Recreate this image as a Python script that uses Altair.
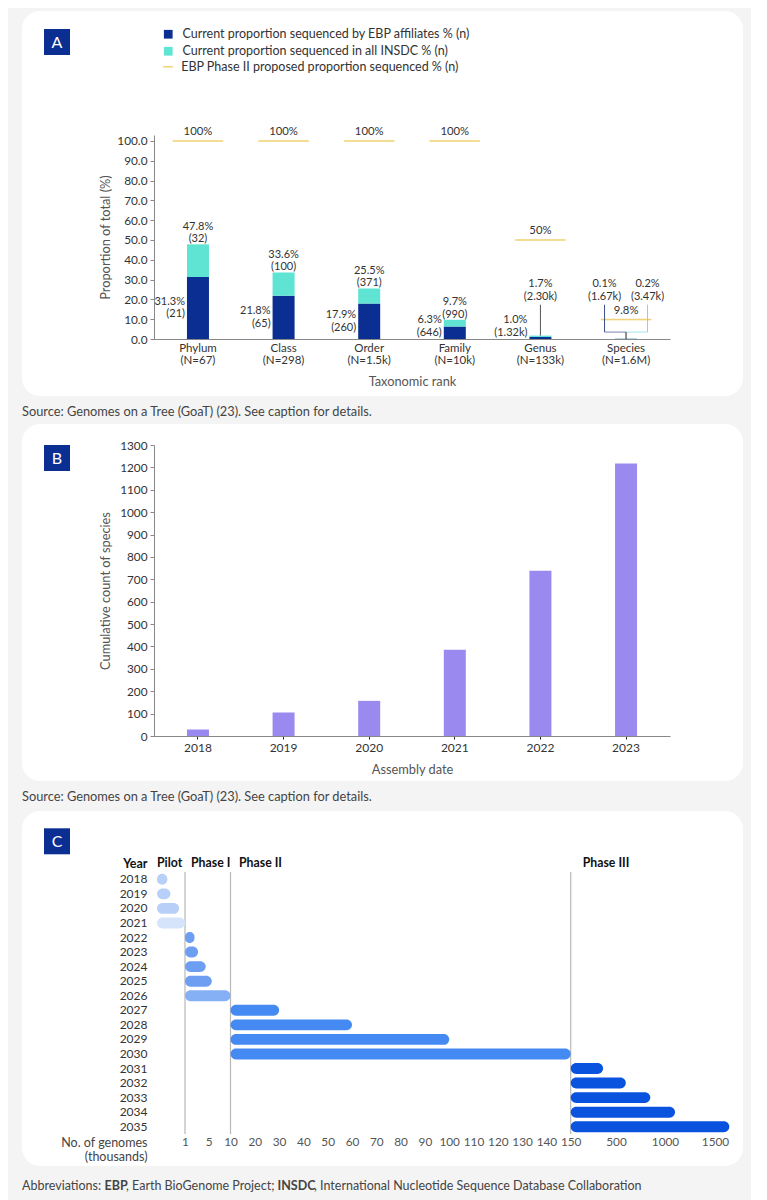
import altair as alt
import pandas as pd

# ---------------- Panel A data ----------------
ranks = ["Phylum", "Class", "Order", "Family", "Genus", "Species"]
rank_sizes = ["(N=67)", "(N=298)", "(N=1.5k)", "(N=10k)", "(N=133k)", "(N=1.6M)"]
ebp_pct = [31.3, 21.8, 17.9, 6.3, 1.0, 0.1]
ebp_n = ["21", "65", "260", "646", "1.32k", "1.67k"]
insdc_pct = [47.8, 33.6, 25.5, 9.7, 1.7, 0.2]
insdc_n = ["32", "100", "371", "990", "2.30k", "3.47k"]
target_pct = [100, 100, 100, 100, 50, 9.8]
a_ticks = [0, 10, 20, 30, 40, 50, 60, 70, 80, 90, 100]

S1 = "Current proportion sequenced by EBP affiliates % (n)"
S2 = "Current proportion sequenced in all INSDC % (n)"
S3 = "EBP Phase II proposed proportion sequenced % (n)"

# ---------------- Panel B data ----------------
b_years = ["2018", "2019", "2020", "2021", "2022", "2023"]
b_counts = [29, 105, 157, 385, 738, 1217]
b_ticks = [0, 100, 200, 300, 400, 500, 600, 700, 800, 900, 1000, 1100, 1200, 1300]

# ---------------- Panel C data ----------------
c_years = ["2018", "2019", "2020", "2021", "2022", "2023", "2024", "2025", "2026",
           "2027", "2028", "2029", "2030", "2031", "2032", "2033", "2034", "2035"]
c_phase = ["Pilot", "Pilot", "Pilot", "Pilot",
           "Phase I", "Phase I", "Phase I", "Phase I", "Phase I",
           "Phase II", "Phase II", "Phase II", "Phase II",
           "Phase III", "Phase III", "Phase III", "Phase III", "Phase III"]
c_genomes = [0.37, 0.48, 0.79, 1.0, 2.6, 3.2, 4.5, 5.7, 10,
             30, 60, 100, 150, 400, 600, 850, 1100, 1650]
phase_names = ["Pilot", "Phase I", "Phase II", "Phase III"]
phase_start = [0, 1, 10, 150]
c_ticks = [1, 5, 10, 20, 30, 40, 50, 60, 70, 80, 90, 100, 110, 120, 130, 140, 150, 500, 1000, 1500]

# ---------------- styles ----------------
FONT = "Lato"
EBP_BLUE = "#0a2e92"
INSDC_CYAN = "#5fe3d3"
GOLD = "#ebc340"
PURPLE = "#9a8af0"
TXT = "#333333"
TITLE = "#555555"
C_PALETTE = ["#b8d0f8", "#b8d0f8", "#b8d0f8", "#d6e4fb",
             "#6d9ef2", "#6d9ef2", "#6d9ef2", "#6d9ef2", "#86b0f5",
             "#4589f3", "#4589f3", "#4589f3", "#4589f3",
             "#0a53de", "#0a53de", "#0a53de", "#0a53de", "#0a53de"]
# piecewise (broken) axis for panel C
C_DOMAIN = [0, 1, 5, 10, 150, 500, 1000, 1500, 1650]
C_RANGE = [3, 31, 54.7, 76.5, 416.7, 462, 511, 561, 575.3]
HDR_DX = [0, 6, 8.5, 12]

PX1, PX2 = -132, 589
LEADER = 17.3
LH = 12.5  # label line height
FS = 11
one = pd.DataFrame({"k": [0]})


def panel_base(top, bottom, extent_bottom, badge_y, letter):
    return [
        alt.Chart(one).mark_rect(opacity=0).encode(
            x=alt.value(PX1), x2=alt.value(PX2), y=alt.value(top), y2=alt.value(extent_bottom)),
        alt.Chart(one).mark_rect(fill="white", cornerRadius=18).encode(
            x=alt.value(PX1), x2=alt.value(PX2), y=alt.value(top), y2=alt.value(bottom)),
        alt.Chart(one).mark_rect(fill=EBP_BLUE).encode(
            x=alt.value(-110), x2=alt.value(-84), y=alt.value(badge_y), y2=alt.value(badge_y + 26)),
        alt.Chart(pd.DataFrame({"t": [letter]})).mark_text(
            color="white", fontSize=16, align="center", baseline="middle").encode(
            x=alt.value(-97), y=alt.value(badge_y + 13.5), text="t:N"),
    ]


def caption(text, x, y, weight="normal", size=12.8):
    return alt.Chart(pd.DataFrame({"t": [text]})).mark_text(
        align="left", baseline="middle", fontSize=size, color="#444", fontWeight=weight).encode(
        x=alt.value(x), y=alt.value(y), text="t:N")


# ================= Panel A =================
catA = [f"{r}|{n}" for r, n in zip(ranks, rank_sizes)]
dfA = pd.DataFrame({
    "rank": ranks, "cat": catA, "ebp": ebp_pct, "insdc": insdc_pct, "target": target_pct,
    "ebp_lab": [f"{p}%\n({n})" for p, n in zip(ebp_pct, ebp_n)],
    "insdc_lab": [f"{p}%\n({n})" for p, n in zip(insdc_pct, insdc_n)],
    "target_lab": [f"{t:g}%" for t in target_pct],
    "tseries": [S3] * len(ranks),
})
bars_df = pd.DataFrame({
    "cat": catA + catA,
    "series": [S1] * 6 + [S2] * 6,
    "y0": [0] * 6 + ebp_pct,
    "y1": ebp_pct + insdc_pct,
})

xA_axis = alt.Axis(labelExpr="split(datum.label, '|')", labelAngle=0, ticks=False, labelPadding=3,
                   labelFontSize=11.5, labelColor=TXT, labelLineHeight=12.5, title="Taxonomic rank",
                   titleFontSize=12.8, titleColor=TITLE, titleFontWeight="normal", titlePadding=9,
                   domainColor="#888", zindex=1)
yA_axis = alt.Axis(values=a_ticks, format=".1f", title="Proportion of total (%)", tickSize=4,
                   labelFontSize=11.8, labelColor=TXT, labelPadding=3, titleFontSize=12.8,
                   titleColor=TITLE, titleFontWeight="normal", titlePadding=4,
                   domainColor="#888", tickColor="#888", zindex=1)


def XA():
    return alt.X("cat:N", scale=alt.Scale(domain=catA, paddingInner=0.743, paddingOuter=0.385), axis=xA_axis)


def YA(f):
    return alt.Y(f"{f}:Q", scale=alt.Scale(domain=[0, 103], nice=False), axis=yA_axis)


barsA = alt.Chart(bars_df).mark_bar().encode(
    x=XA(), y=YA("y0"), y2="y1",
    fill=alt.Fill("series:N", scale=alt.Scale(domain=[S1, S2], range=[EBP_BLUE, INSDC_CYAN]),
                  legend=alt.Legend(orient="none", legendX=8, legendY=-107, title=None,
                                    symbolType="square", symbolSize=76, symbolStrokeWidth=0,
                                    labelFontSize=12.5, labelColor=TXT, labelOffset=8, labelLimit=500,
                                    rowPadding=4, padding=0)))

targetA = alt.Chart(dfA).mark_tick(size=50, thickness=1, strokeWidth=0.6, fill=GOLD).encode(
    x=XA(), y=YA("target"),
    stroke=alt.Stroke("tseries:N", scale=alt.Scale(domain=[S3], range=[GOLD]),
                      legend=alt.Legend(orient="none", legendX=7.7, legendY=-74.5, title=None,
                                        symbolType="stroke", symbolSize=100, symbolStrokeWidth=1.5,
                                        labelFontSize=12.5, labelColor=TXT, labelOffset=7,
                                        labelLimit=500, padding=0)))

targetLab = alt.Chart(dfA).mark_text(baseline="bottom", dy=-4, fontSize=FS + 0.3, color=TXT).encode(
    x=XA(), y=YA("target"), text="target_lab:N")

# multi-line labels: the first line sits at the anchor, further lines flow downward
topLab = alt.Chart(dfA).transform_filter("datum.rank != 'Species' && datum.rank != 'Genus'").mark_text(
    baseline="bottom", dy=-12.5, lineBreak="\n", lineHeight=LH, fontSize=FS, color=TXT).encode(
    x=XA(), y=YA("insdc"), text="insdc_lab:N")
genusLab = alt.Chart(dfA).transform_filter("datum.rank == 'Genus'").transform_calculate(
    ly=f"{LEADER}").mark_text(
    baseline="bottom", dy=-15.5, lineBreak="\n", lineHeight=LH, fontSize=FS, color=TXT).encode(
    x=XA(), y=YA("ly"), text="insdc_lab:N")

leftLab = alt.Chart(dfA).transform_filter("datum.rank != 'Species'").transform_calculate(
    ly="max(datum.ebp / 2, 6.3)").mark_text(
    align="right", baseline="middle", dx=-13, dy=-LH / 2, lineBreak="\n", lineHeight=LH,
    fontSize=FS, color=TXT).encode(x=XA(), y=YA("ly"), text="ebp_lab:N")

spec = alt.Chart(dfA).transform_filter("datum.rank == 'Species'").transform_calculate(
    ly=f"{LEADER}", low="3.5", zero="0")
specLabE = spec.mark_text(baseline="bottom", dy=-15.5, xOffset=-21.5, lineBreak="\n", lineHeight=LH,
                          fontSize=FS, color=TXT).encode(x=XA(), y=YA("ly"), text="ebp_lab:N")
specLabI = spec.mark_text(baseline="bottom", dy=-15.5, xOffset=21.5, lineBreak="\n", lineHeight=LH,
                          fontSize=FS, color=TXT).encode(x=XA(), y=YA("ly"), text="insdc_lab:N")
brL = spec.mark_rule(xOffset=-21.5, color="#3d4f8c", strokeWidth=1).encode(x=XA(), y=YA("ly"), y2="low:Q")
brR = spec.mark_rule(xOffset=21.5, color="#7fd8d8", strokeWidth=1).encode(x=XA(), y=YA("ly"), y2="low:Q")
brHL = spec.mark_tick(size=21.5, thickness=1, xOffset=-10.75, color="#3d4f8c").encode(x=XA(), y=YA("low"))
brHR = spec.mark_tick(size=21.5, thickness=1, xOffset=10.75, color="#7fd8d8").encode(x=XA(), y=YA("low"))
brTip = spec.mark_rule(color="#222", strokeWidth=1).encode(x=XA(), y=YA("low"), y2="zero:Q")

genusLeader = alt.Chart(dfA).transform_filter("datum.rank == 'Genus'").transform_calculate(
    ly=f"{LEADER}").mark_rule(color="#555", strokeWidth=1).encode(x=XA(), y=YA("ly"), y2="insdc:Q")

chartA = alt.layer(
    *panel_base(-124, 261, 289, -106, "A"),
    caption("Source: Genomes on a Tree (GoaT) (23). See caption for details.", PX1, 277),
    barsA, targetA, targetLab, topLab, genusLab, leftLab, genusLeader,
    brL, brR, brHL, brHR, brTip, specLabE, specLabI,
).properties(width=516, height=204)

# ================= Panel B =================
dfB = pd.DataFrame({"year": b_years, "count": b_counts})
chartB_bars = alt.Chart(dfB).mark_bar(color=PURPLE).encode(
    x=alt.X("year:N", scale=alt.Scale(domain=b_years, paddingInner=0.743, paddingOuter=0.385),
            axis=alt.Axis(labelAngle=0, title="Assembly date", tickSize=3, tickColor="#222",
                          labelFontSize=12, labelColor=TXT, labelPadding=3, titleFontSize=12.8,
                          titleColor=TITLE, titleFontWeight="normal", titlePadding=10,
                          domainColor="#888", zindex=1)),
    y=alt.Y("count:Q", scale=alt.Scale(domain=[0, 1300], nice=False),
            axis=alt.Axis(values=b_ticks, format="d", title="Cumulative count of species", tickSize=4,
                          labelFontSize=11.8, labelColor=TXT, labelPadding=3, titleFontSize=12.8,
                          titleColor=TITLE, titleFontWeight="normal", titlePadding=7,
                          domainColor="#888", tickColor="#888", zindex=1)),
)
chartB = alt.layer(
    *panel_base(-21, 336, 366, 0, "B"),
    caption("Source: Genomes on a Tree (GoaT) (23). See caption for details.", PX1, 352),
    chartB_bars,
).properties(width=516, height=291)

# ================= Panel C =================
dfC = pd.DataFrame({"year": c_years, "phase": c_phase, "genomes": c_genomes})
dfC["start"] = dfC["phase"].map(dict(zip(phase_names, phase_start)))
dfP = pd.DataFrame({"phase": phase_names, "start": phase_start})

xC_axis = alt.Axis(values=c_ticks, format="d", labelOverlap=False, labelFlush=False, domain=False,
                   ticks=False, tickSize=0, labelPadding=2, labelFontSize=11.8, labelColor="#555",
                   title=["No. of genomes", "(thousands)"], titleAngle=0, titleAlign="right",
                   titleX=-7, titleY=2, titleBaseline="top", titleFontWeight="normal",
                   titleFontSize=12.5, titleColor="#444", titleLineHeight=14, zindex=1)
yC_axis = alt.Axis(title="Year", titleAngle=0, titleAlign="right", titleX=-7, titleY=-9,
                   titleBaseline="middle", titleFontWeight="bold", titleFontSize=12.5, titleColor="#111",
                   labelFontSize=12, labelColor=TXT, labelPadding=7, ticks=False, tickSize=0,
                   domain=False, zindex=1)


def XC(f):
    return alt.X(f"{f}:Q", scale=alt.Scale(domain=C_DOMAIN, range=C_RANGE, nice=False, zero=False),
                 axis=xC_axis)


def YC():
    return alt.Y("year:N", scale=alt.Scale(domain=c_years, paddingInner=0.25, paddingOuter=0.125),
                 axis=yC_axis)


barsC = alt.Chart(dfC).mark_bar(cornerRadius=5.5).encode(
    x=XC("start"), x2="genomes:Q", y=YC(),
    color=alt.Color("year:N", scale=alt.Scale(domain=c_years, range=C_PALETTE), legend=None))
rulesC = alt.Chart(dfP).transform_filter("datum.start > 0").mark_rule(
    color="#b8b8b8", strokeWidth=1.2).encode(x=XC("start"))
headers = [
    alt.Chart(dfP).transform_filter(f"datum.phase == '{p}'").mark_text(
        align="left", baseline="middle", dx=d, fontSize=12.3, fontWeight="bold", color="#111").encode(
        x=XC("start"), y=alt.value(-9), text="phase:N")
    for p, d in zip(phase_names, HDR_DX)
]

abbr = [
    ("Abbreviations: ", "normal", PX1),
    ("EBP", "bold", -49.5),
    (", Earth BioGenome Project; ", "normal", -28),
    ("INSDC", "bold", 123.5),
    (", International Nucleotide Sequence Database Collaboration", "normal", 160),
]
chartC = alt.layer(
    *panel_base(-61, 294, 328, -43.7, "C"),
    *[caption(t, x, 314, w, 12.5) for t, w, x in abbr],
    rulesC, barsC, *headers,
).properties(width=576, height=262)

chart = alt.vconcat(chartA, chartB, chartC, spacing=0).properties(
    padding={"left": 14, "top": 3, "right": 8, "bottom": 4},
    background="#f4f4f4",
).configure(font=FONT).configure_view(stroke=None).configure_axis(
    grid=False, labelFont=FONT, titleFont=FONT).configure_legend(labelFont=FONT)

chart.save("out.html", embed_options={"renderer": "svg", "actions": False})
